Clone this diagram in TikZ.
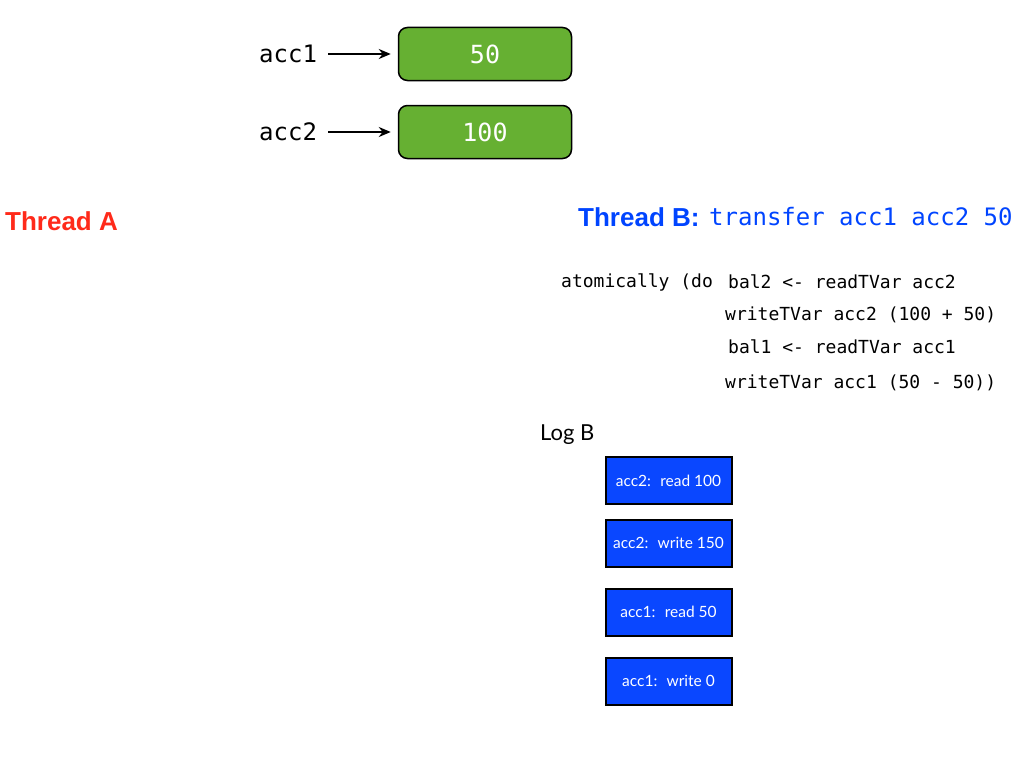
\documentclass[tikz,border=0pt]{standalone}
\usepackage{fontspec}
\setmainfont{Lato}
\setmonofont{DejaVu Sans Mono}
\newfontfamily\headfont{Liberation Sans}
\usetikzlibrary{positioning, arrows.meta}

\definecolor{tvargreen}{HTML}{66B032}
\definecolor{logblue}{HTML}{0A47FF}
\definecolor{threadred}{HTML}{FF2A1A}
\definecolor{threadblue}{HTML}{0044FF}

\begin{document}
\begin{tikzpicture}[x=1pt, y=-1pt,
    tvar/.style={draw=black, line width=1.5pt, rounded corners=9pt, fill=tvargreen,
      text=white, minimum width=173pt, minimum height=53pt, inner sep=0pt,
      font=\ttfamily\fontsize{25}{25}\selectfont},
    varname/.style={anchor=west, inner sep=0pt, font=\ttfamily\fontsize{24}{24}\selectfont},
    code/.style={anchor=west, inner sep=0pt, font=\ttfamily\fontsize{18}{18}\selectfont},
    logentry/.style={draw=black, line width=2pt, fill=logblue, text=white,
      minimum width=126pt, minimum height=47pt, inner sep=0pt,
      font=\fontsize{15.5}{15.5}\selectfont},
    heading/.style={anchor=west, inner sep=0pt, font=\headfont\bfseries\fontsize{26}{26}\selectfont},
    pointer/.style={line width=2.5pt, -{Stealth[length=12pt, width=10pt]}}]

    % Canvas
    \useasboundingbox (0,0) rectangle (1024,768);

    % The two TVars
    \node[varname] (name1) at (259,54) {acc1};
    \node[varname] (name2) at (259,132) {acc2};
    \node[tvar] (tvar1) at (485,54) {50};
    \node[tvar] (tvar2) at (485,132) {100};
    \draw[pointer, shorten <=11pt, shorten >=7pt] (name1.east) -- (tvar1.west);
    \draw[pointer, shorten <=11pt, shorten >=7pt] (name2.east) -- (tvar2.west);

    % Thread headings
    \node[heading, text=threadred] (threadA) at (5,221) {Thread A};
    \node[heading, text=threadblue] (threadB) at (578,217) {Thread B:};
    \node[varname, text=threadblue] (call) at (709,217) {transfer acc1 acc2 50};

    % Transaction body
    \node[code] (atom) at (561,282) {atomically (do};
    \node[code] (line1) at (728,282) {bal2 <- readTVar acc2};
    \node[code] (line2) at (725,315) {writeTVar acc2 (100 + 50)};
    \node[code] (line3) at (728,347) {bal1 <- readTVar acc1};
    \node[code] (line4) at (725,383) {writeTVar acc1 (50 - 50))};

    % Log of thread B
    \node[anchor=west, inner sep=0pt, font=\fontsize{22}{22}\selectfont] (logB) at (540,435) {Log B};
    \node[logentry] (entry1) at (668.5,480.5) {acc2: \ read 100};
    \node[logentry] (entry2) at (668.5,543) {acc2: \ write 150};
    \node[logentry] (entry3) at (668.5,612) {acc1: \ read 50};
    \node[logentry] (entry4) at (668.5,681) {acc1: \ write 0};
\end{tikzpicture}
\end{document}
